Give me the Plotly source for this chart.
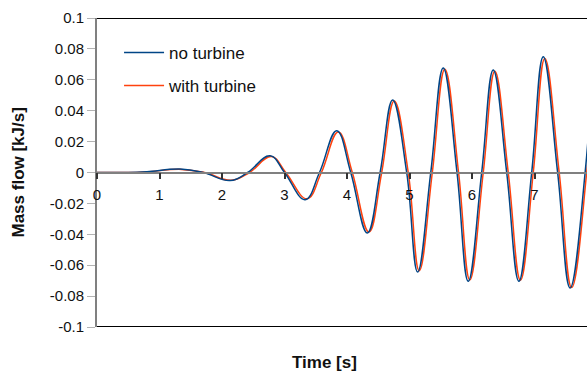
import plotly.graph_objects as go

# Blue series: "no turbine" (extrema and zero crossings)
t_no = [0, 0.5, 0.8, 1.33, 1.7, 2.13, 2.41, 2.77, 3.0, 3.33, 3.56, 3.835, 4.06, 4.325,
        4.53, 4.73, 4.955, 5.13, 5.34, 5.54, 5.76, 5.94, 6.155, 6.34, 6.555, 6.75,
        6.955, 7.14, 7.37, 7.57, 7.81, 7.9]
m_no = [0, 0, 0.0005, 0.0022, 0, -0.0052, 0, 0.0108, 0, -0.0176, 0, 0.0271, 0, -0.0392,
        0, 0.047, 0, -0.0644, 0, 0.0677, 0, -0.0704, 0, 0.0664, 0, -0.0704,
        0, 0.075, 0, -0.0747, 0, 0.05]

# Red series: "with turbine"
t_with = [0, 0.5, 0.8, 1.35, 1.72, 2.15, 2.44, 2.79, 3.02, 3.36, 3.59, 3.86, 4.085, 4.35,
          4.555, 4.755, 4.98, 5.155, 5.365, 5.565, 5.785, 5.965, 6.18, 6.365, 6.58, 6.775,
          6.98, 7.165, 7.395, 7.595, 7.835, 7.92]
m_with = [0, 0, 0.0005, 0.002, 0, -0.005, 0, 0.0103, 0, -0.017, 0, 0.0262, 0, -0.0385,
          0, 0.0462, 0, -0.0636, 0, 0.0668, 0, -0.0695, 0, 0.0655, 0, -0.0697,
          0, 0.0738, 0, -0.0745, 0, 0.04]

y_ticks = [0.1, 0.08, 0.06, 0.04, 0.02, 0, -0.02, -0.04, -0.06, -0.08, -0.1]
y_labels = ["0.1", "0.08", "0.06", "0.04", "0.02", "0", "-0.02", "-0.04", "-0.06", "-0.08", "-0.1"]
x_ticks = [0, 1, 2, 3, 4, 5, 6, 7]
x_labels = ["0", "1", "2", "3", "4", "5", "6", "7"]

FONT = "Liberation Sans, Arial, sans-serif"
BLUE = "#004586"
RED = "#ff420e"
TXT = "#111111"

fig = go.Figure()
fig.add_trace(go.Scatter(x=t_with, y=m_with, mode="lines", name="with turbine",
                         line=dict(color=RED, width=1.5, shape="spline", smoothing=1.2),
                         legend="legend2"))
fig.add_trace(go.Scatter(x=t_no, y=m_no, mode="lines", name="no turbine",
                         line=dict(color=BLUE, width=1.5, shape="spline", smoothing=1.2),
                         legend="legend"))

leg_common = dict(xanchor="left", yanchor="middle", bgcolor="rgba(0,0,0,0)",
                  font=dict(size=17, color=TXT, family=FONT), itemwidth=40)

fig.update_layout(
    width=587, height=374,
    margin=dict(l=97, r=0, t=18, b=47),
    paper_bgcolor="white", plot_bgcolor="white",
    font=dict(family=FONT, size=15, color=TXT),
    showlegend=True,
    legend=dict(x=0.045, y=(327.5 - 53) / 309.5, **leg_common),
    legend2=dict(x=0.045, y=(327.5 - 86) / 309.5, **leg_common),
    xaxis=dict(range=[0, 7.84], tickvals=x_ticks, ticktext=x_labels,
               showgrid=False, zeroline=False,
               anchor="free", position=0.5, side="bottom",
               showline=True, linecolor="#808080", linewidth=1.5,
               ticks="outside", ticklen=6, tickcolor="#333", tickwidth=1.5,
               ticklabelstandoff=3,
               tickfont=dict(size=15, color=TXT)),
    yaxis=dict(range=[-0.1, 0.1], tickvals=y_ticks, ticktext=y_labels,
               showgrid=False, zeroline=False,
               showline=True, linecolor="#808080", linewidth=2,
               ticks="outside", ticklen=8, tickcolor="#b3b3b3", tickwidth=1,
               tickfont=dict(size=15, color=TXT)),
    shapes=[
        dict(type="line", xref="paper", yref="y", x0=0, x1=1, y0=0.1, y1=0.1,
             line=dict(color="black", width=2), layer="above"),
        dict(type="line", xref="paper", yref="y", x0=0, x1=1, y0=-0.1, y1=-0.1,
             line=dict(color="black", width=2), layer="above"),
    ],
    annotations=[
        dict(text="<b>Mass flow [kJ/s]</b>", xref="paper", yref="paper",
             x=-(97 - 18) / 490, y=0.5, textangle=-90, showarrow=False,
             font=dict(size=17, color=TXT), xanchor="center", yanchor="middle"),
        dict(text="<b>Time [s]</b>", xref="paper", yref="paper",
             x=(324 - 97) / 490, y=-(363 - 327.5) / 309.5, showarrow=False,
             font=dict(size=17, color=TXT), xanchor="center", yanchor="middle"),
    ],
)

fig.write_html("out.html")
